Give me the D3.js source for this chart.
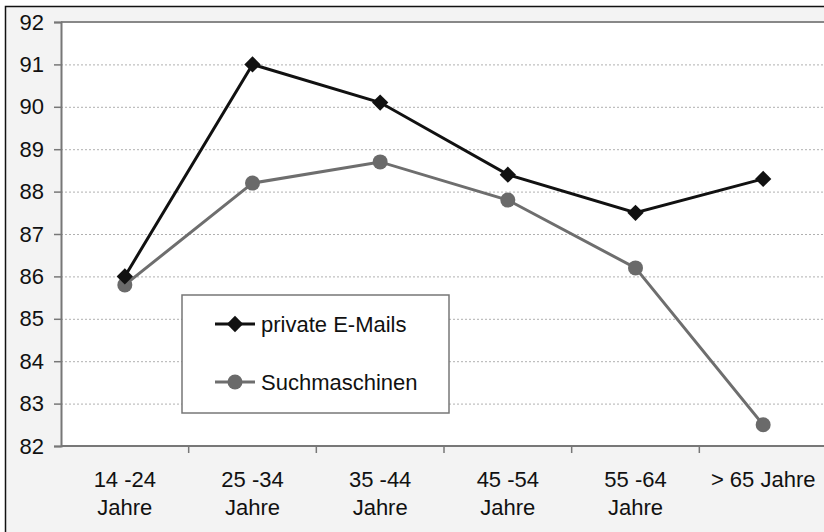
<!DOCTYPE html>
<html>
<head>
<meta charset="utf-8">
<script src="https://cdn.jsdelivr.net/npm/d3@7"></script>
<style>
  html, body { margin: 0; padding: 0; background: #ffffff; }
  svg { display: block; font-family: "Liberation Sans", Arial, sans-serif; }
</style>
</head>
<body>
<svg id="chart" width="824" height="532"></svg>
<script>
// Age groups (two-line labels split by "\n")
const categories = ["14 -24\nJahre", "25 -34\nJahre", "35 -44\nJahre", "45 -54\nJahre", "55 -64\nJahre", "> 65 Jahre"];
const privateEmails = [86.0, 91.0, 90.1, 88.4, 87.5, 88.3];
const searchEngines = [85.8, 88.2, 88.7, 87.8, 86.2, 82.5];
const yTicks = [82, 83, 84, 85, 86, 87, 88, 89, 90, 91, 92];
const seriesNames = ["private E-Mails", "Suchmaschinen"];

const svg = d3.select("#chart");
const W = 824, H = 532;
const plot = { left: 61, top: 22, right: 827, bottom: 446 };
const FS = 22;

// Outer frame and light grey chart background
svg.append("rect").attr("x", 0).attr("y", 0).attr("width", W).attr("height", H).attr("fill", "#ffffff");
svg.append("rect").attr("x", 5.5).attr("y", 6.5).attr("width", W + 10).attr("height", H + 10)
  .attr("fill", "#f3f3f3").attr("stroke", "#111").attr("stroke-width", 1.5);

// Plot area
svg.append("rect").attr("x", plot.left).attr("y", plot.top)
  .attr("width", plot.right - plot.left).attr("height", plot.bottom - plot.top).attr("fill", "#ffffff");

const x = d3.scaleBand().domain(categories).range([plot.left, plot.right]);
const y = d3.scaleLinear().domain([82, 92]).range([plot.bottom, plot.top]);

// Dotted horizontal gridlines
svg.append("g").selectAll("line").data(yTicks.filter(t => t > 82 && t < 92)).join("line")
  .attr("x1", plot.left).attr("x2", plot.right)
  .attr("y1", d => y(d) + 0.5).attr("y2", d => y(d) + 0.5)
  .attr("stroke", "#b0b0b0").attr("stroke-width", 1).attr("stroke-dasharray", "2,2");

// Top border of plot area
svg.append("line").attr("x1", plot.left).attr("x2", plot.right)
  .attr("y1", plot.top).attr("y2", plot.top).attr("stroke", "#888").attr("stroke-width", 2);

// Y axis
const yAxis = svg.append("g").attr("transform", `translate(${plot.left},0)`)
  .call(d3.axisLeft(y).tickValues(yTicks).tickSize(7).tickPadding(10).tickFormat(d3.format("d")));
yAxis.attr("font-size", FS).attr("font-family", "Liberation Sans, Arial, sans-serif");
yAxis.select(".domain").attr("stroke", "#777").attr("stroke-width", 2);
yAxis.selectAll(".tick line").attr("stroke", "#777").attr("stroke-width", 1.5);
yAxis.selectAll(".tick text").style("font-size", FS + "px").attr("fill", "#111");

// X axis with ticks at band boundaries
const xAxisG = svg.append("g").attr("transform", `translate(0,${plot.bottom})`);
xAxisG.append("line").attr("x1", plot.left).attr("x2", plot.right).attr("y1", 0).attr("y2", 0)
  .attr("stroke", "#777").attr("stroke-width", 2);
xAxisG.selectAll("line.tk").data(categories.slice(1)).join("line").attr("class", "tk")
  .attr("x1", d => x(d)).attr("x2", d => x(d)).attr("y1", 0).attr("y2", 7)
  .attr("stroke", "#777").attr("stroke-width", 1.5);
const xl = xAxisG.selectAll("text").data(categories).join("text")
  .attr("x", d => x(d) + x.bandwidth() / 2)
  .attr("y", 41)
  .attr("text-anchor", "middle").style("font-size", FS + "px").attr("fill", "#111");
xl.each(function (d) {
  const lines = d.split("\n");
  d3.select(this).selectAll("tspan").data(lines).join("tspan")
    .attr("x", x(d) + x.bandwidth() / 2)
    .attr("dy", (l, i) => i === 0 ? 0 : 28)
    .text(l => l);
});

const cx = (d, i) => x(categories[i]) + x.bandwidth() / 2;
const line = d3.line().x((d, i) => cx(d, i)).y(d => y(d));

// Suchmaschinen series (grey, circles)
svg.append("path").datum(searchEngines).attr("d", line)
  .attr("fill", "none").attr("stroke", "#6e6e6e").attr("stroke-width", 3);
svg.append("g").selectAll("circle").data(searchEngines).join("circle")
  .attr("cx", cx).attr("cy", d => y(d)).attr("r", 7.5).attr("fill", "#6a6a6a");

// private E-Mails series (black, diamonds)
const diamond = d3.symbol().type(d3.symbolDiamond2).size(170);
svg.append("path").datum(privateEmails).attr("d", line)
  .attr("fill", "none").attr("stroke", "#111").attr("stroke-width", 3);
svg.append("g").selectAll("path").data(privateEmails).join("path")
  .attr("d", diamond).attr("transform", (d, i) => `translate(${cx(d, i)},${y(d)})`).attr("fill", "#111");

// Legend
const lg = svg.append("g");
lg.append("rect").attr("x", 182).attr("y", 295).attr("width", 267).attr("height", 118)
  .attr("fill", "#ffffff").attr("stroke", "#777").attr("stroke-width", 1.5);
const entries = [
  { name: seriesNames[0], color: "#111", mark: "diamond", yy: 324 },
  { name: seriesNames[1], color: "#6e6e6e", mark: "circle", yy: 382 }
];
entries.forEach(e => {
  lg.append("line").attr("x1", 215).attr("x2", 255).attr("y1", e.yy).attr("y2", e.yy)
    .attr("stroke", e.color).attr("stroke-width", 3);
  if (e.mark === "diamond") {
    lg.append("path").attr("d", diamond).attr("transform", `translate(235,${e.yy})`).attr("fill", "#111");
  } else {
    lg.append("circle").attr("cx", 235).attr("cy", e.yy).attr("r", 7.5).attr("fill", "#6a6a6a");
  }
  lg.append("text").attr("x", 261).attr("y", e.yy + 8).style("font-size", FS + "px").attr("fill", "#111").text(e.name);
});
</script>
</body>
</html>
